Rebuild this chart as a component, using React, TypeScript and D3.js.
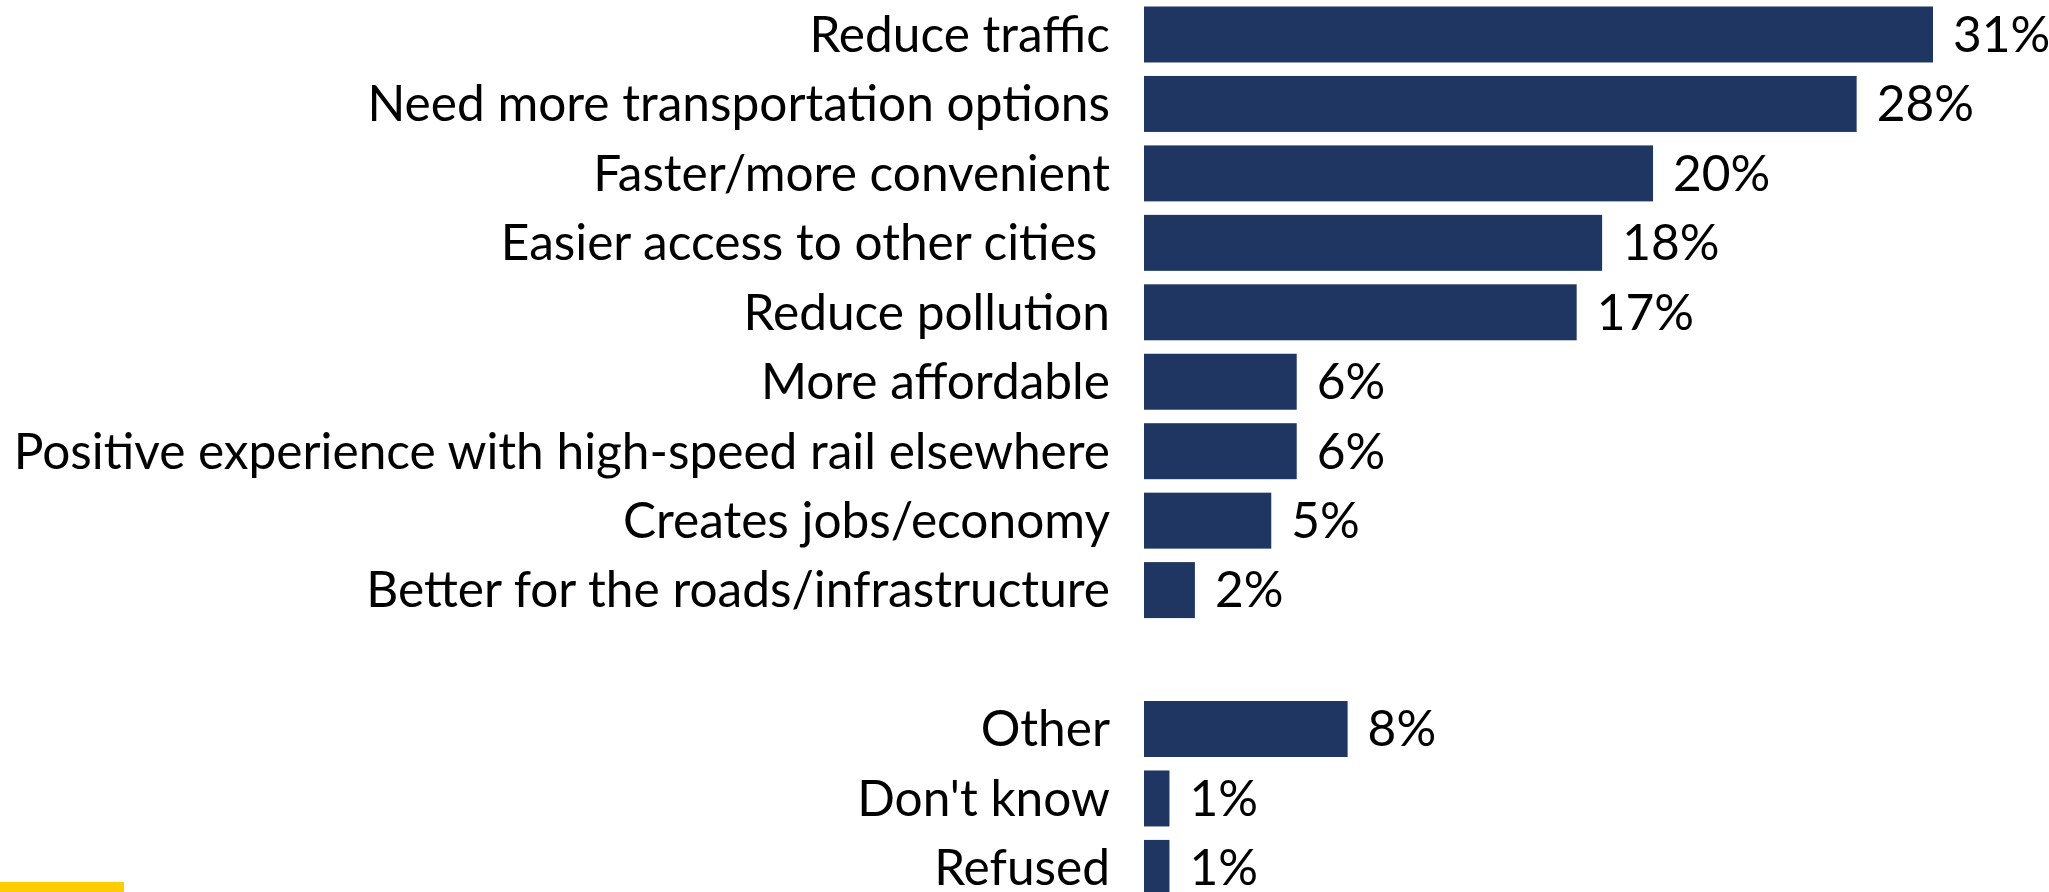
import React from "react";
import * as d3 from "d3";

const mainCategories = [
  "Reduce traffic",
  "Need more transportation options",
  "Faster/more convenient",
  "Easier access to other cities ",
  "Reduce pollution",
  "More affordable",
  "Positive experience with high-speed rail elsewhere",
  "Creates jobs/economy",
  "Better for the roads/infrastructure",
];
const mainValues = [31, 28, 20, 18, 17, 6, 6, 5, 2];

const otherCategories = ["Other", "Don't know", "Refused"];
const otherValues = [8, 1, 1];

const GAP_KEY = "__gap__";

const W = 2049;
const H = 892;
const BAR_COLOR = "#1E3661";
const ACCENT = "#FFCC00";
const FONT = "Lato, 'Open Sans', sans-serif";
const FONT_SIZE = 49.6;
const SCALE_X = 1.0;

export default function App() {
  const rows = [
    ...mainCategories.map((c, i) => ({ key: c, label: c, value: mainValues[i] })),
    { key: GAP_KEY, label: "", value: null as number | null },
    ...otherCategories.map((c, i) => ({ key: c, label: c, value: otherValues[i] })),
  ];

  const barLeft = 1144;
  const x = d3.scaleLinear().domain([0, 31]).range([barLeft, 1933]);
  const y = d3
    .scaleBand<string>()
    .domain(rows.map((r) => r.key))
    .range([6.5, 895.9])
    .paddingInner(0.194)
    .paddingOuter(0);

  const labelRight = 1110;

  return (
    <svg
      width={W}
      height={H}
      style={{ position: "absolute", left: 0, top: 0, background: "#fff" }}
      fontFamily={FONT}
    >
      <rect x={0} y={0} width={W} height={H} fill="#fff" />
      {rows.map((r) => {
        if (r.value === null) return null;
        const y0 = y(r.key)!;
        const cy = y0 + y.bandwidth() / 2;
        const xEnd = x(r.value);
        return (
          <g key={r.key}>
            <rect
              x={x(0)}
              y={y0}
              width={xEnd - x(0)}
              height={y.bandwidth()}
              fill={BAR_COLOR}
            />
            <g transform={`translate(${labelRight},${cy}) scale(${SCALE_X},1)`}>
              <text
                x={0}
                y={0}
                dy="0.35em"
                textAnchor="end"
                fontSize={FONT_SIZE}
                fill="#000"
                style={{ whiteSpace: "pre" }}
              >
                {r.label}
              </text>
            </g>
            <g transform={`translate(${xEnd + 20},${cy}) scale(${SCALE_X},1)`}>
              <text x={0} y={0} dy="0.35em" fontSize={FONT_SIZE} fill="#000">
                {`${r.value}%`}
              </text>
            </g>
          </g>
        );
      })}
      <rect x={0} y={882} width={124} height={10} fill={ACCENT} />
    </svg>
  );
}
